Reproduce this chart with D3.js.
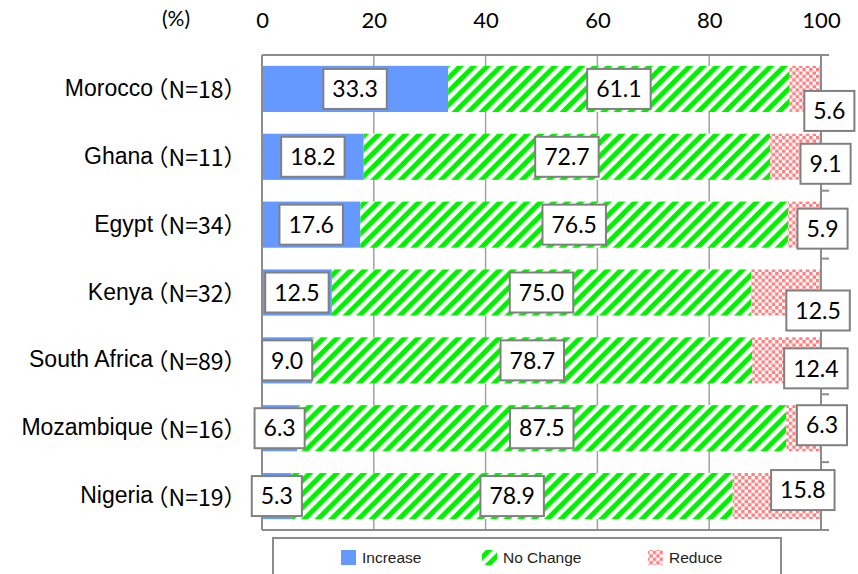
<!DOCTYPE html>
<html>
<head>
<meta charset="utf-8">
<script src="https://cdn.jsdelivr.net/npm/d3@7"></script>
<style>
  body { margin: 0; background: #fff; }
  svg { display: block; }
  .nsize { font-family: 'Noto Sans CJK JP', 'Liberation Sans', sans-serif; font-feature-settings: "halt"; }
</style>
</head>
<body>
<svg id="chart" width="858" height="574"></svg>
<script>
// Survey: planned change in investment, by country (%)
const countries   = ["Morocco", "Ghana", "Egypt", "Kenya", "South Africa", "Mozambique", "Nigeria"];
const sampleSizes = [18, 11, 34, 32, 89, 16, 19];
const increase    = [33.3, 18.2, 17.6, 12.5, 9.0, 6.3, 5.3];
const noChange    = [61.1, 72.7, 76.5, 75.0, 78.7, 87.5, 78.9];
const reduce      = [5.6, 9.1, 5.9, 12.5, 12.4, 6.3, 15.8];
const seriesKeys  = ["Increase", "No Change", "Reduce"];
const xTicks      = [0, 20, 40, 60, 80, 100];

// The "Reduce" callouts are pushed off their narrow segments: [dx, dy] from the segment centre
const reduceNudge = [[24, 22], [30, 7], [18, 4], [32, 18], [29, 8], [18, -3], [26, -6]];

const rows = countries.map((c, i) => ({
  country: c, n: sampleSizes[i],
  "Increase": increase[i], "No Change": noChange[i], "Reduce": reduce[i]
}));

const svg = d3.select("#chart");
const x = d3.scaleLinear().domain([0, 100]).range([262, 821]);
const y = d3.scaleBand().domain(countries).range([55, 530]).paddingInner(0.32).paddingOuter(0.16);

// ---- fills ----
const defs = svg.append("defs");
const stripe = defs.append("pattern").attr("id", "stripes")
  .attr("patternUnits", "userSpaceOnUse").attr("width", 13.5).attr("height", 13.5);
stripe.append("rect").attr("width", 13.5).attr("height", 13.5).attr("fill", "#fff");
stripe.append("path")
  .attr("d", "M-3.4,3.4L3.4,-3.4M0,13.5L13.5,0M10.1,16.9L16.9,10.1")
  .attr("stroke", "#00f000").attr("stroke-width", 5);

const cs = 3.4;
const checker = defs.append("pattern").attr("id", "checker")
  .attr("patternUnits", "userSpaceOnUse").attr("width", cs * 2).attr("height", cs * 2);
checker.append("rect").attr("width", cs * 2).attr("height", cs * 2).attr("fill", "#fff");
checker.append("rect").attr("width", cs).attr("height", cs).attr("fill", "#ff7f80");
checker.append("rect").attr("x", cs).attr("y", cs).attr("width", cs).attr("height", cs).attr("fill", "#ff7f80");

const fills = { "Increase": "#6699ff", "No Change": "url(#stripes)", "Reduce": "url(#checker)" };

// ---- grid and frame ----
const frameColor = "#8c8c8c";
svg.append("g").selectAll("line").data(xTicks.slice(1, -1)).join("line")
  .attr("x1", d => x(d)).attr("x2", d => x(d))
  .attr("y1", y.range()[0]).attr("y2", y.range()[1])
  .attr("stroke", "#a0a0a0").attr("stroke-width", 1.5);

// top axis with tick labels
const topAxis = d3.axisTop(x).tickValues(xTicks).tickSize(0).tickPadding(0);
const gTop = svg.append("g").attr("transform", `translate(0,${y.range()[0]})`).call(topAxis);
gTop.select(".domain").remove();
gTop.selectAll("text")
  .attr("y", -35).attr("dy", "0.35em")
  .style("font-family", "Lato, 'Open Sans', sans-serif").style("font-size", "22px").attr("fill", "#000");

svg.append("text").attr("x", 176).attr("y", 26).attr("text-anchor", "middle")
  .style("font-family", "Lato, 'Open Sans', sans-serif").style("font-size", "21px")
  .text("(%)");

// ---- stacked bars ----
const stacked = d3.stack().keys(seriesKeys)(rows);
svg.append("g").selectAll("g").data(stacked).join("g")
  .attr("fill", s => fills[s.key])
  .selectAll("rect").data(s => s).join("rect")
  .attr("x", d => x(d[0]))
  .attr("y", d => y(d.data.country))
  .attr("width", d => x(d[1]) - x(d[0]))
  .attr("height", y.bandwidth());

// frame lines (left, top, bottom, right value axis with outward ticks)
const [y0, y1] = y.range();
const frame = svg.append("g").attr("stroke", frameColor).attr("stroke-width", 2).attr("fill", "none");
frame.append("line").attr("x1", x(0)).attr("x2", x(0)).attr("y1", y0).attr("y2", y1);
frame.append("line").attr("x1", x(0)).attr("x2", x(100) + 8).attr("y1", y0).attr("y2", y0);
frame.append("line").attr("x1", x(0)).attr("x2", x(100) + 8).attr("y1", y1).attr("y2", y1);
frame.append("line").attr("x1", x(100)).attr("x2", x(100)).attr("y1", y0).attr("y2", y1);
const bounds = countries.slice(1).map(c => y(c) - y.step() * y.paddingInner() / 2);
frame.selectAll(".tk").data(bounds).join("line").attr("class", "tk")
  .attr("x1", x(100)).attr("x2", x(100) + 8).attr("y1", d => d).attr("y2", d => d);

// ---- category labels ----
const catG = svg.append("g");
rows.forEach(r => {
  const t = catG.append("text")
    .attr("x", 235).attr("y", y(r.country) + y.bandwidth() / 2 + 7)
    .attr("text-anchor", "end")
    .style("font-family", "'Liberation Sans', Arial, sans-serif")
    .style("font-size", "23px").attr("fill", "#000");
  t.append("tspan").text(r.country);
  t.append("tspan").attr("class", "nsize").attr("dx", 4).attr("dy", 2.5).text(`（N=${r.n}）`);
});

// ---- value callouts ----
const labelG = svg.append("g");
function callout(cx, cy, value) {
  const g = labelG.append("g");
  const rect = g.append("rect");
  const t = g.append("text")
    .attr("x", cx).attr("y", cy).attr("dy", "0.36em").attr("text-anchor", "middle")
    .style("font-family", "Lato, 'Open Sans', sans-serif").style("font-size", "23px")
    .attr("fill", "#000").text(value.toFixed(1));
  const w = t.node().getComputedTextLength() + 18, h = 40;
  rect.attr("x", cx - w / 2).attr("y", cy - h / 2).attr("width", w).attr("height", h)
    .attr("fill", "#fff").attr("stroke", "#808080").attr("stroke-width", 2);
}

stacked.forEach(s => {
  s.forEach((d, i) => {
    let cx = x((d[0] + d[1]) / 2), cy = y(d.data.country) + y.bandwidth() / 2;
    if (s.key === "Reduce") { cx += reduceNudge[i][0]; cy += reduceNudge[i][1]; }
    callout(cx, cy, d.data[s.key]);
  });
});

// ---- legend ----
const leg = svg.append("g");
leg.append("rect").attr("x", 273).attr("y", 538).attr("width", 508).attr("height", 60)
  .attr("fill", "#fff").attr("stroke", frameColor).attr("stroke-width", 2);
const legX = [341, 482, 648];
seriesKeys.forEach((k, i) => {
  leg.append("rect").attr("x", legX[i]).attr("y", 550).attr("width", 15).attr("height", 15)
    .attr("fill", fills[k]);
  leg.append("text").attr("x", legX[i] + 21).attr("y", 557.5).attr("dy", "0.35em")
    .style("font-family", "'Liberation Sans', Arial, sans-serif").style("font-size", "15.5px")
    .attr("fill", "#222").text(k);
});
</script>
</body>
</html>
